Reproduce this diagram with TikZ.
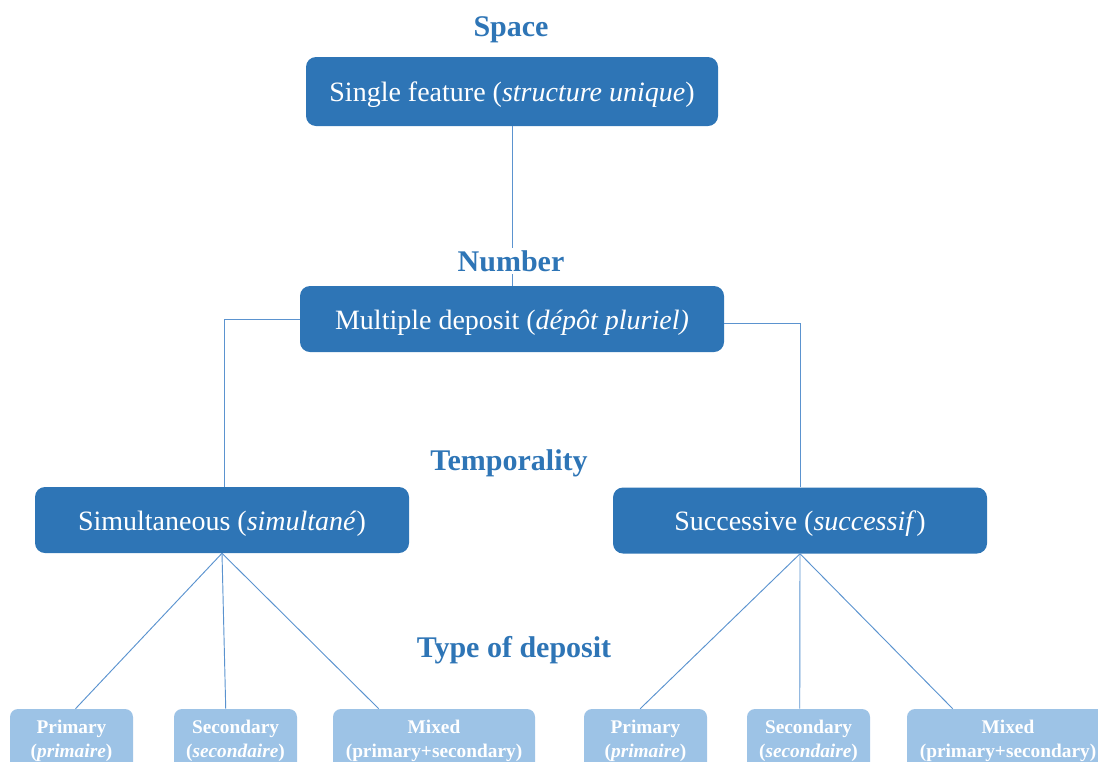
\documentclass[tikz,border=0pt]{standalone}
\usepackage{fontspec}
\setmainfont{Liberation Serif}
\usetikzlibrary{positioning}
\definecolor{darkblue}{HTML}{2E75B6}
\definecolor{lightblue}{HTML}{9DC3E6}
\definecolor{linkblue}{HTML}{5B93CF}

\begin{document}
\begin{tikzpicture}[x=0.75pt, y=-0.75pt,
        mainbox/.style={fill=darkblue, rounded corners=7.5pt, text=white, inner sep=0pt, text height=19.5pt, text depth=4.5pt, font=\fontsize{21}{25}\selectfont},
        subbox/.style={fill=lightblue, rounded corners=6pt, text=white, inner sep=0pt, align=center, minimum height=48pt, font=\bfseries\fontsize{14.5}{18}\selectfont},
        level/.style={text=darkblue, inner sep=2pt, font=\bfseries\fontsize{22.5}{26}\selectfont},
        link/.style={draw=linkblue, line width=0.7pt}]

        % Frame
        \useasboundingbox (0,0) rectangle (1098,761);
        \clip (0,0) rectangle (1098,761);

        % Boxes
        \node[mainbox, minimum width=309pt, minimum height=51.75pt] (single) at (512,91.5) {Single feature (\textit{structure unique})};
        \node[mainbox, minimum width=318pt, minimum height=49.5pt] (multiple) at (512,319) {Multiple deposit (\textit{dépôt pluriel)}};
        \node[mainbox, minimum width=280.5pt, minimum height=49.5pt] (simul) at (222,520) {Simultaneous (\textit{simultané})};
        \node[mainbox, minimum width=280.5pt, minimum height=49.5pt] (success) at (800,520.5) {Successive (\textit{successif})};

        % Types of deposit
        \node[subbox, minimum width=92.25pt] (primL) at (71.5,741) {Primary\\(\textit{primaire})};
        \node[subbox, minimum width=92.25pt] (secL) at (235.5,741) {Secondary\\(\textit{secondaire})};
        \node[subbox, minimum width=151.5pt] (mixL) at (434,741) {Mixed\\(primary+secondary)};
        \node[subbox, minimum width=92.25pt] (primR) at (645.5,741) {Primary\\(\textit{primaire})};
        \node[subbox, minimum width=92.25pt] (secR) at (808.5,741) {Secondary\\(\textit{secondaire})};
        \node[subbox, minimum width=151.5pt] (mixR) at (1008,741) {Mixed\\(primary+secondary)};

        % Connectors
        \draw[link] (single) -- (multiple);
        \draw[link] (multiple.west) -| ([xshift=1.5pt]simul.north);
        \draw[link] ([yshift=-3pt]multiple.east) -| (success.north);
        \draw[link] (simul.south) -- ([xshift=3pt]primL.north);
        \draw[link] (simul.south) -- ([xshift=39pt]secL.north west);
        \draw[link] (simul.south) -- ([xshift=34.5pt]mixL.north west);
        \draw[link] (success.south) -- ([xshift=-4pt]primR.north);
        \draw[link] (success.south) -- ([xshift=39.75pt]secR.north west);
        \draw[link] (success.south) -- ([xshift=34.5pt]mixR.north west);

        % Levels
        \node[level] (space) at (511,30) {Space};
        \node[level, fill=white] (number) at (511,261) {Number};
        \node[level] (tempo) at (509,463) {Temporality};
        \node[level] (type) at (514,650) {Type of deposit};

\end{tikzpicture}
\end{document}
